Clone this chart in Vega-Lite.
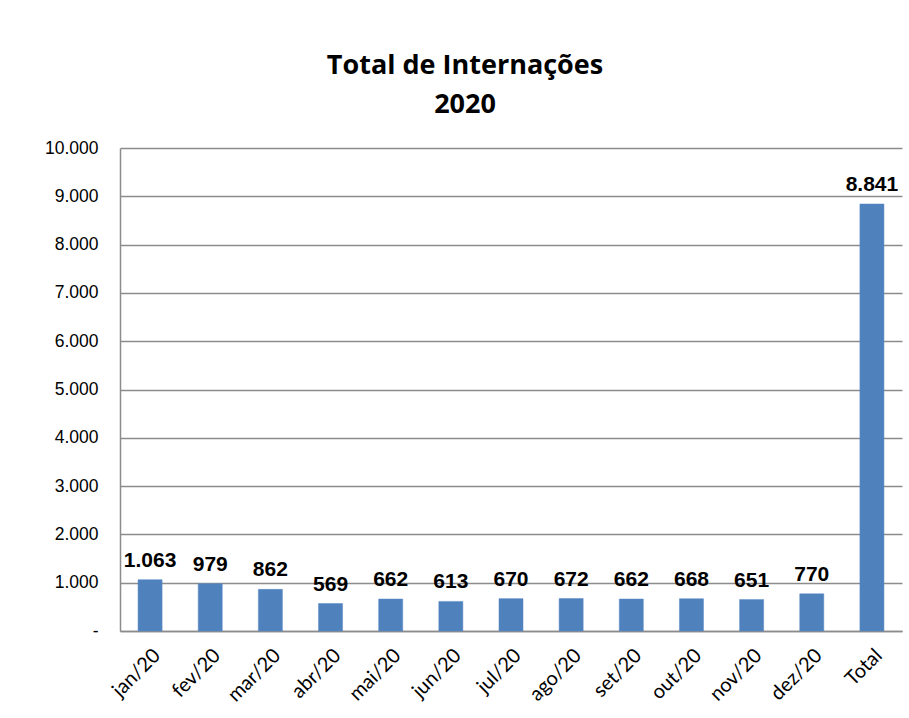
{
  "$schema": "https://vega.github.io/schema/vega-lite/v6.json",
  "width": 782,
  "height": 483,
  "autosize": {"type": "none"},
  "padding": {"left": 120, "top": 148, "right": 7, "bottom": 87},
  "background": "white",
  "title": {
    "text": ["Total de Internações", "2020"],
    "font": "Open Sans",
    "fontSize": 27,
    "fontWeight": "bold",
    "color": "#000000",
    "anchor": "middle",
    "frame": "group",
    "dx": -46,
    "lineHeight": 39,
    "offset": 20
  },
  "data": {
    "values": [
      {"mes": "jan/20", "valor": 1063},
      {"mes": "fev/20", "valor": 979},
      {"mes": "mar/20", "valor": 862},
      {"mes": "abr/20", "valor": 569},
      {"mes": "mai/20", "valor": 662},
      {"mes": "jun/20", "valor": 613},
      {"mes": "jul/20", "valor": 670},
      {"mes": "ago/20", "valor": 672},
      {"mes": "set/20", "valor": 662},
      {"mes": "out/20", "valor": 668},
      {"mes": "nov/20", "valor": 651},
      {"mes": "dez/20", "valor": 770},
      {"mes": "Total", "valor": 8841}
    ]
  },
  "encoding": {
    "x": {
      "field": "mes",
      "type": "nominal",
      "sort": null,
      "scale": {"paddingInner": 0.6, "paddingOuter": 0.3},
      "axis": {
        "title": null,
        "labelAngle": -45,
        "labelFont": "Lato",
        "labelFontSize": 20,
        "labelColor": "#000000",
        "labelPadding": 14,
        "ticks": false,
        "domainColor": "#8c8c8c",
        "domainWidth": 1.5
      }
    },
    "y": {
      "field": "valor",
      "type": "quantitative",
      "scale": {"domain": [0, 10000]},
      "axis": {
        "title": null,
        "values": [0, 1000, 2000, 3000, 4000, 5000, 6000, 7000, 8000, 9000, 10000],
        "labelExpr": "datum.value == 0 ? '-' : datum.label",
        "labelFont": "Liberation Sans",
        "labelFontSize": 17.5,
        "labelColor": "#000000",
        "labelPadding": 22,
        "ticks": false,
        "grid": true,
        "gridColor": "#8c8c8c",
        "gridWidth": 1.5,
        "domainColor": "#8c8c8c",
        "domainWidth": 1.5
      }
    }
  },
  "layer": [
    {
      "mark": {"type": "bar", "color": "#4F81BD", "stroke": "#5a8ac6", "strokeWidth": 0.5}
    },
    {
      "mark": {
        "type": "text",
        "font": "Liberation Sans",
        "fontSize": 21,
        "fontWeight": "bold",
        "color": "#000000",
        "baseline": "alphabetic",
        "dy": -13
      },
      "encoding": {
        "text": {"field": "valor", "type": "quantitative", "format": ","}
      }
    }
  ],
  "config": {
    "view": {"stroke": null},
    "locale": {
      "number": {"decimal": ",", "thousands": ".", "grouping": [3], "currency": ["R$", ""]}
    }
  }
}
